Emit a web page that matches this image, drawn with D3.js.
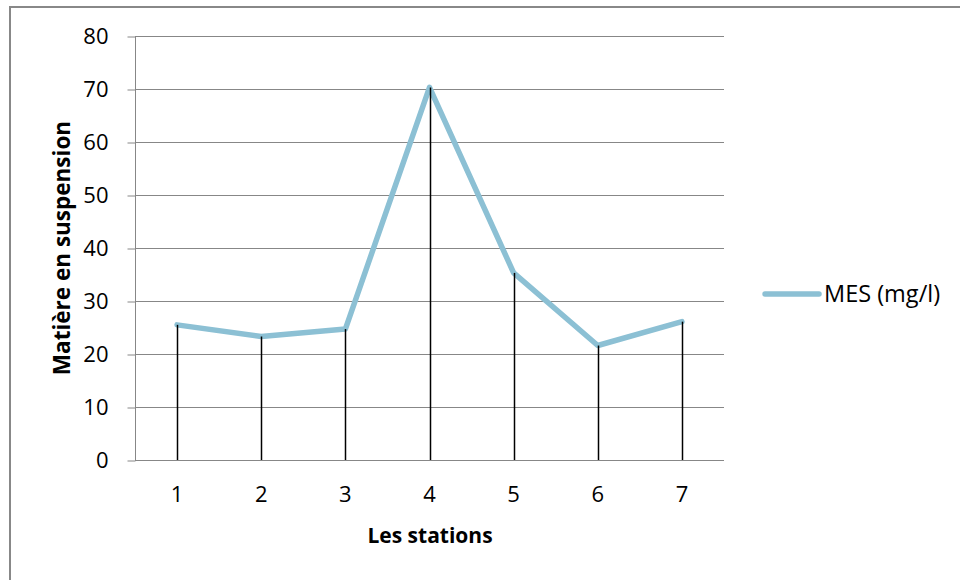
<!DOCTYPE html>
<html>
<head>
<meta charset="utf-8">
<script src="https://cdn.jsdelivr.net/npm/d3@7"></script>
<style>
  html, body { margin: 0; padding: 0; background: #fff; }
  svg { display: block; font-family: "Open Sans", "DejaVu Sans", sans-serif; }
</style>
</head>
<body>
<svg id="chart" width="960" height="580"></svg>
<script>
// Stations and suspended-matter concentrations (MES, mg/l)
const stations = ["1", "2", "3", "4", "5", "6", "7"];
const mesValues = [25.5, 23.3, 24.7, 70.3, 35.3, 21.6, 26.1];
const yTicks = [0, 10, 20, 30, 40, 50, 60, 70, 80];
const seriesName = "MES (mg/l)";
const xTitle = "Les stations";
const yTitle = "Matière en suspension";

const svg = d3.select("#chart");
const plot = { left: 135, right: 724, top: 36, bottom: 460 };
const lineColor = "#8cc0d4";
const gridColor = "#878787";
const font = "'Open Sans', sans-serif";

// Outer chart frame
svg.append("rect")
  .attr("x", 10).attr("y", 7)
  .attr("width", 1000).attr("height", 700)
  .attr("fill", "none")
  .attr("stroke", "#888").attr("stroke-width", 2);

const x = d3.scaleBand().domain(stations).range([plot.left, plot.right]);
const y = d3.scaleLinear().domain([0, 80]).range([plot.bottom, plot.top]);

// Horizontal gridlines
svg.append("g").selectAll("line")
  .data(yTicks.filter(t => t > 0))
  .join("line")
  .attr("x1", plot.left).attr("x2", plot.right)
  .attr("y1", d => y(d) + 0.5).attr("y2", d => y(d) + 0.5)
  .attr("stroke", gridColor).attr("stroke-width", 1);

// Y axis
const yAxis = svg.append("g")
  .attr("transform", `translate(${plot.left + 0.5},0)`)
  .call(d3.axisLeft(y).tickValues(yTicks).tickSize(8).tickPadding(19).tickFormat(d3.format("d")));
yAxis.attr("font-size", null).attr("font-family", null);
yAxis.select(".domain").attr("stroke", gridColor).attr("d", `M0,${plot.top}V${plot.bottom}`);
yAxis.selectAll(".tick line").attr("stroke", gridColor).attr("transform", "translate(0,0.5)");
yAxis.selectAll(".tick text")
  .attr("font-size", 22).attr("fill", "#000")
  .attr("font-family", font)
  .attr("dy", "0.36em");

// X axis
const xAxis = svg.append("g")
  .attr("transform", `translate(0,${plot.bottom + 0.5})`)
  .call(d3.axisBottom(x).tickSize(0).tickPadding(26));
xAxis.attr("font-size", null).attr("font-family", null);
xAxis.select(".domain").attr("stroke", gridColor).attr("d", `M${plot.left},0H${plot.right}`);
xAxis.selectAll(".tick text")
  .attr("font-size", 22).attr("fill", "#000")
  .attr("font-family", font);

const cx = d => x(d) + x.bandwidth() / 2;

// Series line
const line = d3.line()
  .x((d, i) => cx(stations[i]))
  .y(d => y(d));
svg.append("path")
  .datum(mesValues)
  .attr("d", line)
  .attr("fill", "none")
  .attr("stroke", lineColor)
  .attr("stroke-width", 5.5)
  .attr("stroke-linejoin", "round")
  .attr("stroke-linecap", "round");

// Drop lines from each point to the axis
svg.append("g").selectAll("line")
  .data(mesValues)
  .join("line")
  .attr("x1", (d, i) => Math.round(cx(stations[i])) + 0.5)
  .attr("x2", (d, i) => Math.round(cx(stations[i])) + 0.5)
  .attr("y1", d => y(d))
  .attr("y2", plot.bottom)
  .attr("stroke", "#000").attr("stroke-width", 1.5);

// Axis titles
svg.append("text")
  .attr("x", 430)
  .attr("y", 543)
  .attr("text-anchor", "middle")
  .attr("font-size", 21).attr("font-weight", "bold")
  .attr("font-family", font)
  .text(xTitle);

svg.append("text")
  .attr("transform", `translate(62,${(plot.top + plot.bottom) / 2}) rotate(-90)`)
  .attr("text-anchor", "middle")
  .attr("dy", "0.36em")
  .attr("font-size", 22.5).attr("font-weight", "bold")
  .attr("font-family", font)
  .text(yTitle);

// Legend
const legend = svg.append("g").attr("transform", "translate(765,294)");
legend.append("line")
  .attr("x1", 0).attr("x2", 54)
  .attr("y1", 0).attr("y2", 0)
  .attr("stroke", lineColor).attr("stroke-width", 5.5)
  .attr("stroke-linecap", "round");
legend.append("text")
  .attr("x", 59).attr("y", 0)
  .attr("dy", "0.36em")
  .attr("font-size", 23.5)
  .attr("font-family", font)
  .text(seriesName);
</script>
</body>
</html>
